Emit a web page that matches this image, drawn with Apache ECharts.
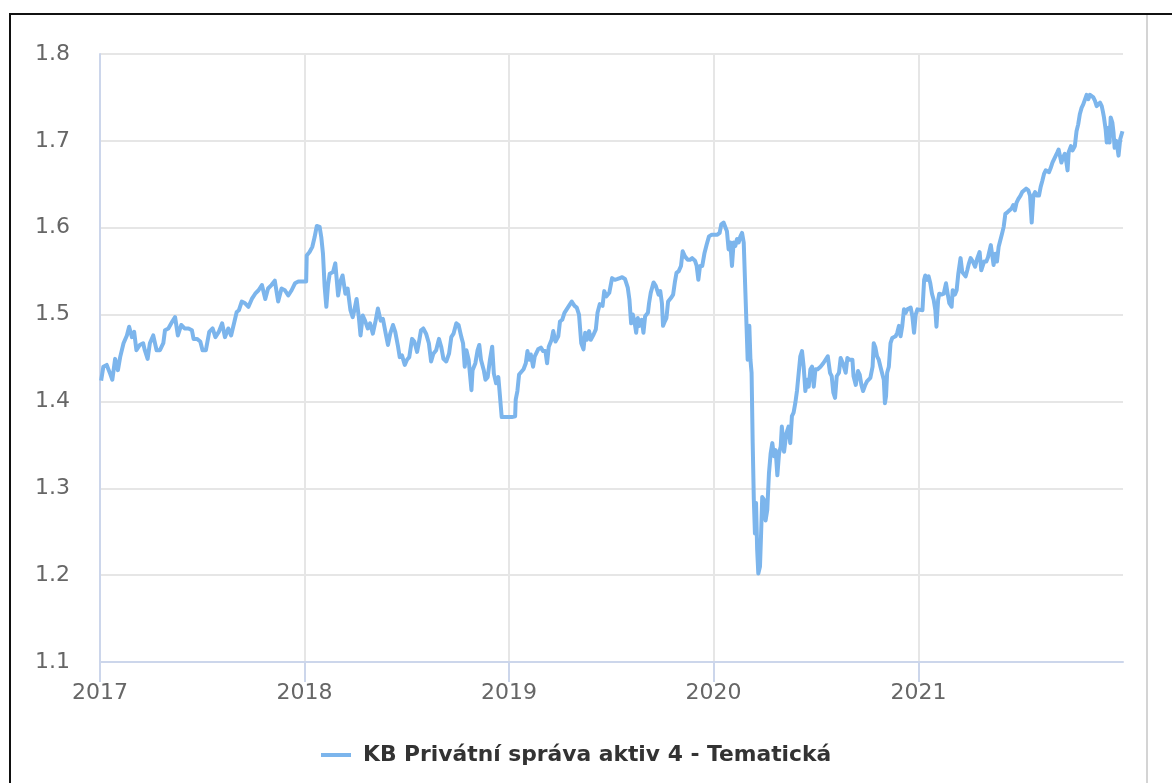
<!DOCTYPE html>
<html>
<head>
<meta charset="utf-8">
<script src="https://cdn.jsdelivr.net/npm/echarts@6/dist/echarts.min.js"></script>
<style>
html,body{margin:0;padding:0;background:#fff;}
#wrap{position:relative;width:1172px;height:783px;overflow:hidden;background:#fff;}
#frameTop{position:absolute;left:9px;top:13px;width:1163px;height:2px;background:#111;}
#frameLeft{position:absolute;left:9px;top:13px;width:2px;height:770px;background:#111;}
#frameRight{position:absolute;left:1146px;top:15px;width:2px;height:768px;background:#d4d4d4;}
#chart{position:absolute;left:0;top:0;width:1172px;height:783px;}
</style>
</head>
<body>
<div id="wrap">
<div id="frameTop"></div>
<div id="frameLeft"></div>
<div id="frameRight"></div>
<div id="chart"></div>
</div>
<script>
// Series name
var seriesName = 'KB Privátní správa aktiv 4 - Tematická';
// Y axis tick range
var yMin = 1.1, yMax = 1.8, yStep = 0.1;
// X axis range
var xStart = '2017-01-01T00:00:00Z', xEnd = '2021-12-31T23:00:00Z';
// Values: [day of year, value]
var d2017 = [[2,1.424],[6,1.440],[12,1.442],[18,1.432],[22,1.425],[27,1.449],[32,1.436],[36,1.451],[42,1.467],[48,1.476],[52,1.486],[57,1.474],[61,1.480],[65,1.459],[71,1.465],[77,1.467],[80,1.459],[85,1.449],[89,1.467],[95,1.476],[101,1.459],[107,1.459],[113,1.467],[116,1.482],[122,1.484],[129,1.492],[134,1.497],[139,1.476],[145,1.488],[151,1.484],[158,1.484],[164,1.482],[167,1.472],[173,1.472],[179,1.469],[183,1.459],[189,1.459],[195,1.480],[201,1.484],[206,1.474],[212,1.480],[218,1.490],[223,1.474],[229,1.484],[234,1.476],[240,1.492],[244,1.503],[248,1.505],[253,1.515],[259,1.513],[265,1.509],[271,1.518],[277,1.524],[283,1.528],[289,1.534],[295,1.518],[300,1.530],[306,1.534],[312,1.539],[318,1.515],[324,1.530],[330,1.528],[336,1.522],[342,1.528],[348,1.536],[354,1.538],[360,1.538],[362,1.539]];
var d2018 = [[3,1.538],[4,1.568],[9,1.572],[14,1.578],[18,1.589],[22,1.602],[27,1.601],[30,1.589],[33,1.570],[36,1.532],[39,1.509],[42,1.534],[45,1.547],[51,1.549],[55,1.559],[60,1.522],[64,1.538],[68,1.545],[73,1.524],[77,1.530],[82,1.505],[86,1.497],[89,1.505],[93,1.518],[97,1.497],[100,1.476],[104,1.499],[108,1.493],[113,1.484],[117,1.490],[122,1.478],[127,1.493],[131,1.507],[136,1.493],[140,1.495],[145,1.478],[149,1.465],[153,1.478],[158,1.488],[162,1.480],[167,1.463],[170,1.451],[174,1.453],[179,1.442],[183,1.448],[187,1.451],[192,1.472],[196,1.469],[201,1.457],[204,1.467],[208,1.482],[212,1.484],[217,1.478],[222,1.467],[226,1.446],[230,1.455],[235,1.459],[240,1.472],[244,1.463],[248,1.449],[253,1.446],[258,1.455],[262,1.474],[266,1.478],[271,1.490],[275,1.488],[280,1.474],[283,1.467],[286,1.440],[289,1.459],[293,1.448],[298,1.413],[300,1.436],[305,1.444],[309,1.459],[312,1.465],[315,1.448],[320,1.436],[323,1.425],[327,1.428],[331,1.448],[335,1.463],[338,1.432],[342,1.421],[346,1.428],[348,1.413],[352,1.382],[364,1.382]];
var d2019 = [[5,1.382],[11,1.383],[12,1.402],[15,1.412],[18,1.431],[21,1.433],[26,1.437],[30,1.444],[33,1.458],[36,1.448],[39,1.454],[43,1.440],[46,1.452],[49,1.456],[52,1.460],[57,1.462],[61,1.458],[65,1.458],[68,1.444],[71,1.463],[76,1.471],[79,1.481],[83,1.469],[88,1.475],[91,1.492],[95,1.494],[99,1.502],[103,1.506],[107,1.510],[112,1.515],[117,1.510],[121,1.508],[125,1.500],[129,1.467],[133,1.460],[136,1.479],[139,1.471],[143,1.481],[146,1.471],[151,1.477],[155,1.483],[158,1.502],[162,1.512],[167,1.510],[170,1.527],[174,1.521],[179,1.525],[182,1.523],[184,1.542],[189,1.540],[194,1.541],[198,1.542],[202,1.543],[207,1.541],[212,1.531],[215,1.517],[218,1.490],[221,1.500],[224,1.492],[227,1.479],[230,1.496],[233,1.487],[237,1.494],[240,1.479],[243,1.498],[248,1.502],[250,1.513],[253,1.525],[258,1.537],[262,1.533],[267,1.523],[270,1.527],[273,1.513],[275,1.487],[278,1.492],[281,1.496],[284,1.515],[289,1.519],[293,1.523],[296,1.537],[299,1.548],[303,1.550],[307,1.556],[310,1.573],[314,1.567],[319,1.563],[323,1.563],[327,1.565],[332,1.562],[335,1.556],[338,1.540],[341,1.556],[345,1.556],[349,1.571],[353,1.581],[357,1.590],[362,1.592]];
var d2020 = [[1,1.592],[7,1.592],[11,1.594],[14,1.604],[18,1.606],[21,1.606],[24,1.596],[27,1.575],[30,1.583],[33,1.556],[36,1.583],[39,1.579],[42,1.587],[45,1.583],[48,1.590],[51,1.594],[54,1.583],[57,1.525],[59,1.487],[61,1.448],[64,1.487],[66,1.448],[68,1.433],[70,1.352],[72,1.287],[74,1.248],[76,1.283],[78,1.229],[80,1.202],[83,1.210],[85,1.248],[87,1.290],[90,1.287],[93,1.263],[96,1.275],[99,1.317],[102,1.340],[105,1.352],[108,1.337],[111,1.344],[114,1.315],[117,1.340],[120,1.348],[122,1.371],[126,1.342],[130,1.363],[134,1.371],[137,1.352],[140,1.383],[143,1.387],[146,1.398],[149,1.412],[152,1.413],[155,1.452],[158,1.458],[161,1.440],[164,1.412],[167,1.425],[170,1.417],[173,1.437],[176,1.440],[179,1.417],[182,1.437],[186,1.437],[191,1.440],[196,1.444],[200,1.448],[204,1.452],[208,1.433],[211,1.429],[214,1.410],[217,1.404],[220,1.429],[224,1.433],[227,1.450],[231,1.444],[236,1.433],[239,1.450],[243,1.448],[248,1.448],[250,1.429],[254,1.419],[258,1.435],[261,1.431],[264,1.419],[267,1.412],[271,1.419],[274,1.423],[277,1.423],[280,1.427],[284,1.440],[286,1.467],[289,1.462],[292,1.452],[295,1.448],[298,1.440],[301,1.442],[304,1.425],[306,1.398],[308,1.406],[310,1.433],[313,1.440],[316,1.467],[319,1.473],[322,1.475],[325,1.475],[328,1.479],[331,1.487],[334,1.475],[337,1.487],[340,1.506],[343,1.502],[346,1.506],[349,1.506],[352,1.508],[355,1.498],[358,1.479],[361,1.500],[364,1.506]];
var d2021 = [[1,1.505],[7,1.505],[10,1.540],[12,1.545],[15,1.540],[18,1.544],[21,1.536],[24,1.524],[27,1.517],[30,1.505],[32,1.486],[35,1.517],[37,1.524],[41,1.523],[45,1.524],[49,1.536],[52,1.524],[55,1.513],[59,1.509],[61,1.528],[65,1.523],[68,1.528],[71,1.547],[75,1.565],[78,1.549],[81,1.547],[84,1.544],[87,1.551],[90,1.559],[93,1.565],[97,1.561],[101,1.555],[105,1.565],[109,1.572],[112,1.551],[117,1.561],[121,1.561],[124,1.566],[129,1.580],[131,1.578],[134,1.557],[137,1.570],[140,1.561],[143,1.578],[146,1.580],[149,1.593],[152,1.601],[155,1.616],[159,1.618],[162,1.616],[166,1.622],[169,1.626],[172,1.620],[175,1.629],[178,1.633],[182,1.637],[185,1.641],[188,1.643],[192,1.645],[196,1.643],[199,1.637],[202,1.606],[205,1.637],[208,1.641],[211,1.637],[215,1.637],[218,1.647],[221,1.654],[224,1.662],[227,1.666],[230,1.666],[233,1.664],[236,1.669],[239,1.675],[242,1.679],[245,1.683],[248,1.687],[250,1.690],[253,1.689],[255,1.675],[258,1.681],[261,1.685],[264,1.675],[266,1.666],[268,1.687],[272,1.694],[275,1.689],[279,1.694],[282,1.711],[285,1.719],[288,1.731],[291,1.738],[294,1.742],[297,1.744],[300,1.753],[303,1.748],[306,1.753],[309,1.752],[312,1.750],[315,1.746],[318,1.740],[321,1.742],[324,1.744],[327,1.740],[329,1.734],[331,1.727],[334,1.713],[336,1.698],[339,1.715],[341,1.698],[343,1.727],[346,1.721],[348,1.710],[350,1.692],[353,1.700],[355,1.692],[357,1.683],[360,1.702],[362,1.704],[364,1.711]];

var yearly = [[2017,d2017],[2018,d2018],[2019,d2019],[2020,d2020],[2021,d2021]];
var DAY = 86400000;
var seriesData = [];
yearly.forEach(function (yd) {
  var base = Date.UTC(yd[0], 0, 1);
  yd[1].forEach(function (p) { seriesData.push([base + p[0] * DAY, p[1]]); });
});

var FONT = '"DejaVu Sans", "Noto Sans", sans-serif';
var chart = echarts.init(document.getElementById('chart'), null, {renderer: 'canvas'});
chart.setOption({
  useUTC: true,
  animation: false,
  backgroundColor: 'transparent',
  grid: {left: 100, right: 49, top: 54, bottom: 121, containLabel: false},
  legend: {
    data: [seriesName],
    left: 316,
    top: 739,
    icon: 'rect',
    itemWidth: 30,
    itemHeight: 4,
    itemGap: 10,
    textStyle: {fontFamily: FONT, fontSize: 21.8, fontWeight: 'bold', color: '#333333', padding: [0, 0, 0, 7]}
  },
  xAxis: {
    type: 'time',
    min: xStart,
    max: xEnd,
    minInterval: 365 * DAY,
    maxInterval: 366 * DAY,
    axisLine: {lineStyle: {color: '#ccd6eb', width: 2}},
    axisTick: {show: true, length: 20, lineStyle: {color: '#ccd6eb', width: 2}},
    axisLabel: {
      fontFamily: FONT, fontSize: 22, color: '#666666', margin: 20,
      formatter: function (v) { return String(new Date(v).getUTCFullYear()); },
      hideOverlap: false,
      showMaxLabel: false
    },
    splitLine: {show: true, showMaxLine: false, lineStyle: {color: '#e6e6e6', width: 2}}
  },
  yAxis: {
    type: 'value',
    min: yMin, max: yMax, interval: yStep,
    axisLine: {show: true, lineStyle: {color: '#ccd6eb', width: 2}},
    axisTick: {show: false},
    axisLabel: {
      fontFamily: FONT, fontSize: 22, color: '#666666', margin: 30,
      formatter: function (v) { return v.toFixed(1); }
    },
    splitLine: {show: true, lineStyle: {color: '#e6e6e6', width: 2}}
  },
  series: [{
    name: seriesName,
    type: 'line',
    data: seriesData,
    showSymbol: false,
    symbol: 'none',
    color: '#7cb5ec',
    lineStyle: {width: 4, color: '#7cb5ec', join: 'round'},
    z: 3
  }]
});
</script>
</body>
</html>
